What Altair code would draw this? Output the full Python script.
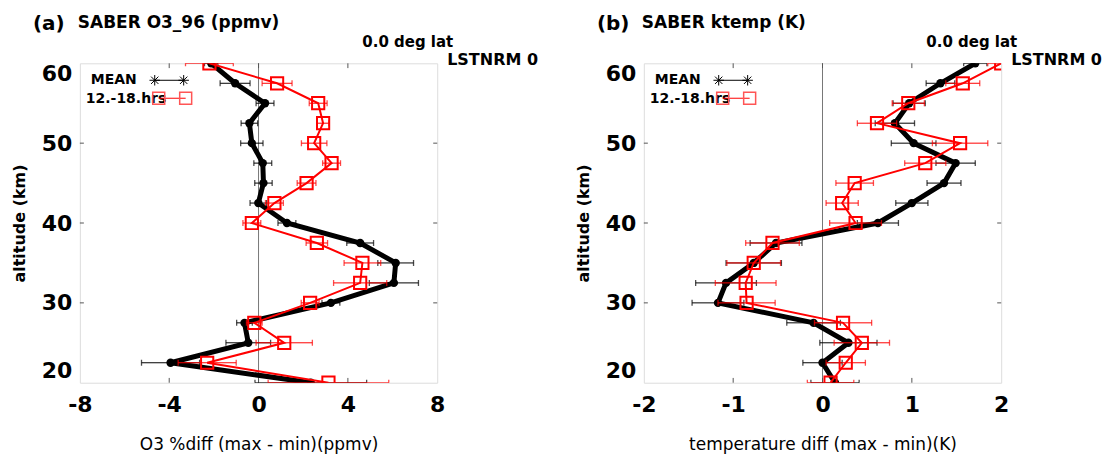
import altair as alt
import pandas as pd

# ---------------- data ----------------
altitude_km = [20, 22.5, 25, 27.5, 30, 32.5, 35, 37.5, 40, 42.5, 45, 47.5, 50, 52.5, 55, 57.5, 60]

o3_mean = [2.34, -3.94, -0.46, -0.63, 3.24, 6.06, 6.14, 4.55, 1.27, -0.01, 0.22, 0.19, -0.30, -0.41, 0.29, -1.05, -2.12]
o3_mean_err = [2.5, 1.3, 1.0, 0.35, 0.4, 1.1, 0.8, 0.6, 0.4, 0.37, 0.39, 0.4, 0.5, 0.37, 0.4, 0.67, 0.3]
o3_day = [3.13, -2.30, 1.15, -0.19, 2.31, 4.55, 4.65, 2.61, -0.30, 0.71, 2.15, 3.27, 2.49, 2.89, 2.67, 0.83, -2.2]
o3_day_err = [2.7, 1.3, 1.26, 0.35, 0.4, 1.19, 0.82, 0.48, 0.4, 0.4, 0.42, 0.4, 0.57, 0.26, 0.4, 0.67, 1.07]

t_mean = [0.14, 0.0, 0.29, -0.10, -1.17, -1.08, -0.77, -0.52, 0.62, 1.0, 1.36, 1.49, 1.02, 0.81, 0.97, 1.32, 1.71]
t_mean_err = [0.27, 0.22, 0.32, 0.3, 0.29, 0.34, 0.31, 0.29, 0.23, 0.18, 0.19, 0.22, 0.25, 0.22, 0.18, 0.16, 0.13]
t_day = [0.09, 0.26, 0.44, 0.23, -0.85, -0.86, -0.77, -0.56, 0.37, 0.22, 0.36, 1.15, 1.54, 0.61, 0.96, 1.57, 2.0]
t_day_err = [0.26, 0.22, 0.31, 0.32, 0.32, 0.34, 0.3, 0.3, 0.29, 0.18, 0.21, 0.23, 0.31, 0.22, 0.18, 0.19, 0.15]

panel_letters = ["(a)", "(b)"]
panel_titles = ["SABER O3_96 (ppmv)", "SABER ktemp (K)"]
x_titles = ["O3 %diff (max - min)(ppmv)", "temperature diff (max - min)(K)"]
x_domains = [[-8, 8], [-2, 2]]
x_tick_values = [[-8, -4, 0, 4, 8], [-2, -1, 0, 1, 2]]
y_tick_values = [20, 30, 40, 50, 60]
lat_label = "0.0 deg lat"
lst_label = "LSTNRM 0"
legend_labels = ["MEAN", "12.-18.hrs"]

FONT = "DejaVu Sans"
W, H = 358, 320
ASTERISK = "M-1,0L1,0M0,-1L0,1M-0.7,-0.7L0.7,0.7M-0.7,0.7L0.7,-0.7"


def panel(i, mean, mean_err, day, day_err):
    xdom = x_domains[i]
    xsc = alt.Scale(domain=xdom, nice=False, zero=False)
    ysc = alt.Scale(domain=[20, 60], nice=False, zero=False)
    xaxis = alt.Axis(values=x_tick_values[i], title=x_titles[i], grid=False, domain=False,
                     tickSize=0, labelFont=FONT, labelFontSize=22, labelFontWeight="bold",
                     labelColor="black", labelPadding=12, titleFont=FONT, titleFontSize=17,
                     titleFontWeight="normal", titleColor="black", titlePadding=21,
                     labelFlush=False, labelExpr="datum.value + ''")
    yaxis = alt.Axis(values=y_tick_values, title="altitude (km)", grid=False, domain=False,
                     tickSize=0, labelFont=FONT, labelFontSize=22, labelFontWeight="bold",
                     labelColor="black", labelPadding=8, labelFlush=True, titleFont=FONT,
                     titleFontSize=16, titleFontWeight="bold", titleColor="black",
                     titlePadding=14, labelExpr="datum.value + ''")

    def X(f):
        return alt.X(f, type="quantitative", scale=xsc, axis=xaxis)

    def Y(f):
        return alt.Y(f, type="quantitative", scale=ysc, axis=yaxis)

    def series(vals, errs):
        return pd.DataFrame({
            "alt": altitude_km,
            "v": vals,
            "lo": [v - e for v, e in zip(vals, errs)],
            "hi": [v + e for v, e in zip(vals, errs)],
        })

    dm = series(mean, mean_err)
    dd = series(day, day_err)

    layers = []
    # zero line
    layers.append(alt.Chart(pd.DataFrame({"z": [0]})).mark_rule(color="#777", strokeWidth=1)
                  .encode(x=X("z")))
    # inward ticks (from tick value lists)
    span = xdom[1] - xdom[0]
    inner = [v for v in x_tick_values[i] if xdom[0] < v < xdom[1]]
    tick_km = 0.6
    dt = pd.DataFrame({"t": inner})
    layers.append(alt.Chart(dt).mark_rule(color="#555").encode(
        x=X("t"), y=alt.datum(60, scale=ysc), y2=alt.datum(60 - tick_km)))
    layers.append(alt.Chart(dt).mark_rule(color="#555").encode(
        x=X("t"), y=alt.datum(20, scale=ysc), y2=alt.datum(20 + tick_km)))
    ytin = [v for v in y_tick_values if 20 < v < 60]
    dy = pd.DataFrame({"t": ytin})
    xt = span * 4.0 / W
    layers.append(alt.Chart(dy).mark_rule(color="#555").encode(
        y=Y("t"), x=alt.datum(xdom[0], scale=xsc), x2=alt.datum(xdom[0] + xt)))
    layers.append(alt.Chart(dy).mark_rule(color="#555").encode(
        y=Y("t"), x=alt.datum(xdom[1], scale=xsc), x2=alt.datum(xdom[1] - xt)))

    def errbars(d, color):
        c = alt.Chart(d)
        return [
            c.mark_rule(color=color, strokeWidth=1, clip=True).encode(x=X("lo"), x2="hi", y=Y("alt")),
            c.mark_tick(color=color, orient="vertical", size=6, thickness=1.3, clip=True).encode(x=X("lo"), y=Y("alt")),
            c.mark_tick(color=color, orient="vertical", size=6, thickness=1.3, clip=True).encode(x=X("hi"), y=Y("alt")),
        ]

    layers += errbars(dm, "black")
    layers.append(alt.Chart(dm).mark_line(color="black", strokeWidth=5, clip=True)
                  .encode(x=X("v"), y=Y("alt"), order="alt:Q"))
    layers.append(alt.Chart(dm).mark_point(color="black", filled=True, size=70, opacity=1, clip=True)
                  .encode(x=X("v"), y=Y("alt")))
    layers += errbars(dd, "#ff0000")
    layers.append(alt.Chart(dd).mark_line(color="#ff0000", strokeWidth=2, clip=True)
                  .encode(x=X("v"), y=Y("alt"), order="alt:Q"))
    layers.append(alt.Chart(dd).mark_point(color="#ff0000", shape="square", filled=False, size=150,
                                           strokeWidth=2, opacity=1, clip=True)
                  .encode(x=X("v"), y=Y("alt")))

    # ---------- decorations: titles / labels / legend ----------
    def txt(s, x, y, size, weight="bold"):
        return alt.Chart(pd.DataFrame({"s": [s]})).mark_text(
            align="left", baseline="alphabetic", font=FONT, fontSize=size, fontWeight=weight,
            color="black").encode(text="s:N", x=alt.value(x), y=alt.value(y))

    layers.append(txt(panel_letters[i], -47, -33, 20))
    layers.append(txt(panel_titles[i], -2, -35, 17))
    layers.append(txt(lat_label, 283, -16, 15))
    layers.append(txt(lst_label, W + 10, 2, 16))
    layers.append(txt(legend_labels[0], 11, 21, 14))
    layers.append(txt(legend_labels[1], 6, 40, 14))

    one = pd.DataFrame({"a": [0]})
    layers.append(alt.Chart(one).mark_rule(color="black", strokeWidth=1).encode(
        x=alt.value(75), x2=alt.value(104), y=alt.value(17)))
    layers.append(alt.Chart(pd.DataFrame({"px": [75, 104]})).mark_point(
        shape=ASTERISK, size=110, color="black", strokeWidth=1, filled=False, opacity=1).encode(
        x=alt.X("px:Q", scale=None), y=alt.value(17)))
    layers.append(alt.Chart(one).mark_rule(color="#ff0000", strokeWidth=1).encode(
        x=alt.value(79), x2=alt.value(106), y=alt.value(35)))
    layers.append(alt.Chart(pd.DataFrame({"px": [79, 106]})).mark_point(
        shape="square", size=144, color="#ff5555", strokeWidth=1.5, filled=False, opacity=1).encode(
        x=alt.X("px:Q", scale=None), y=alt.value(35)))

    return alt.layer(*layers).properties(width=W, height=H)


left = panel(0, o3_mean, o3_mean_err, o3_day, o3_day_err)
right = panel(1, t_mean, t_mean_err, t_day, t_day_err)

chart = alt.hconcat(left, right, spacing=207, bounds="flush").properties(
    padding={"left": 2, "top": 5, "right": 0, "bottom": 0}
).resolve_scale(x="independent", y="independent").configure_view(
    stroke="#444", strokeWidth=1
).configure(font=FONT)

chart.save("out.html", embed_options={"renderer": "svg", "actions": False})
